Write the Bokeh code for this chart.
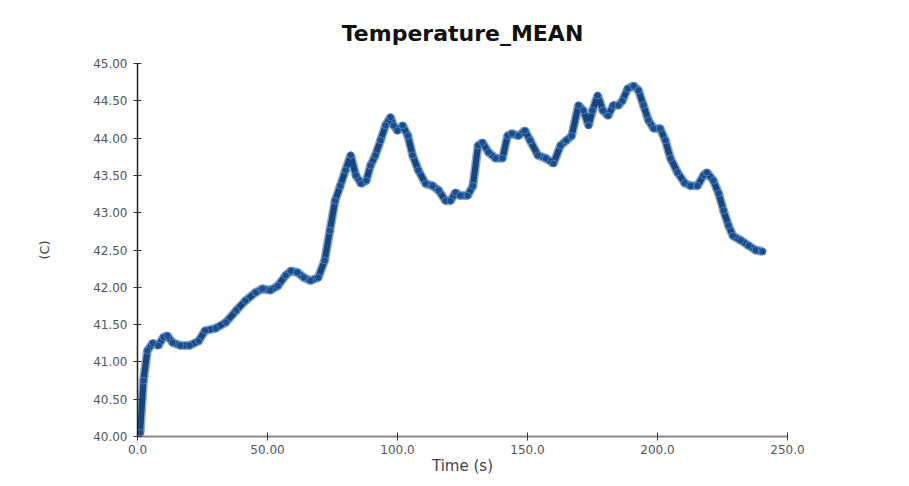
from bokeh.plotting import figure
from bokeh.models import FixedTicker, Range1d
from bokeh.embed import file_html
from bokeh.resources import INLINE

time_s = [0, 1, 2.3, 3.8, 5.8, 8, 10, 11.5, 13.5, 16.5, 20, 23.5, 26, 30, 34, 38, 41.5, 45.4, 48, 51,
          54, 57, 59, 61.5, 64, 66.5, 69.5, 72, 74, 76, 78, 80, 82, 84, 86, 88, 89.6, 91.5, 93.5, 95.4,
          97.3, 98.5, 100, 102, 104, 105.8, 108, 110.8, 113.5, 115.8, 118.5, 120.4, 122.3, 124, 127, 129,
          131, 132.7, 135, 137.7, 140.4, 142.3, 144, 146.5, 149, 151, 154, 157, 160, 162.7, 165, 167,
          169.6, 171.5, 173.5, 175, 177, 179, 181, 183, 185, 186.5, 188.5, 190.8, 192.7, 194.6, 196.5,
          198.5, 201, 203, 205, 207.7, 210.4, 212.7, 215.4, 217.7, 219, 221.5, 223.5, 225.4, 227.3, 229,
          232, 235, 237.7, 240.4]
temp_c = [40.0, 40.05, 40.75, 41.15, 41.25, 41.22, 41.33, 41.35, 41.26, 41.22, 41.22, 41.28, 41.42, 41.45,
          41.53, 41.69, 41.82, 41.93, 41.98, 41.96, 42.02, 42.16, 42.22, 42.2, 42.13, 42.09, 42.13, 42.36,
          42.76, 43.16, 43.36, 43.57, 43.77, 43.5, 43.39, 43.43, 43.63, 43.77, 43.97, 44.17, 44.28, 44.17,
          44.1, 44.17, 44.03, 43.77, 43.57, 43.39, 43.36, 43.3, 43.16, 43.16, 43.27, 43.23, 43.23, 43.36,
          43.9, 43.94, 43.81, 43.73, 43.73, 44.03, 44.06, 44.03, 44.1, 43.97, 43.77, 43.73, 43.66, 43.9,
          43.97, 44.03, 44.44, 44.37, 44.17, 44.37, 44.57, 44.37, 44.3, 44.44, 44.44, 44.5, 44.66, 44.7,
          44.64, 44.44, 44.24, 44.13, 44.13, 43.97, 43.73, 43.54, 43.4, 43.36, 43.36, 43.5, 43.54, 43.43,
          43.26, 43.03, 42.83, 42.69, 42.63, 42.56, 42.5, 42.48]

y_ticks = [40.0, 40.5, 41.0, 41.5, 42.0, 42.5, 43.0, 43.5, 44.0, 44.5, 45.0]
x_ticks = [0, 50, 100, 150, 200, 250]
x_tick_labels = ["0.0", "50.00", "100.0", "150.0", "200.0", "250.0"]

p = figure(width=909, height=486, output_backend="svg", toolbar_location=None,
           x_range=Range1d(0, 250), y_range=Range1d(40, 45),
           min_border_left=137, min_border_right=122, min_border_top=63, min_border_bottom=50,
           title="Temperature_MEAN")
p.title.align = "center"
p.title.text_font = "DejaVu Sans"
p.title.text_font_size = "22px"
p.title.text_font_style = "bold"
p.title.text_color = "#111111"
p.title.offset = 0
p.title.standoff = 35
p.outline_line_color = None
p.xgrid.visible = False
p.ygrid.visible = False
p.background_fill_color = "white"
p.border_fill_color = "white"

p.line(time_s, temp_c, line_width=9, color="#3b6fae", line_alpha=0.6)
p.line(time_s, temp_c, line_width=6, color="#16457f")
p.scatter(time_s, temp_c, size=7, fill_color="#1b4d8a", line_color="#4a7fbf", line_width=1)

xa = p.xaxis[0]
xa.ticker = FixedTicker(ticks=x_ticks)
xa.major_label_overrides = {t: l for t, l in zip(x_ticks, x_tick_labels)}
xa.axis_label = "Time (s)"
xa.axis_line_color = "#888888"
xa.axis_line_width = 2
xa.major_tick_line_color = "#333333"
xa.major_tick_in = 4
xa.major_tick_out = 4
xa.minor_tick_line_color = None
xa.major_label_text_font = "DejaVu Sans"
xa.major_label_text_font_size = "12px"
xa.major_label_text_color = "#555555"
xa.axis_label_text_font = "DejaVu Sans"
xa.axis_label_text_font_size = "15px"
xa.axis_label_text_font_style = "normal"
xa.axis_label_text_color = "#444444"
xa.axis_label_standoff = 0
xa.major_label_standoff = 4

ya = p.yaxis[0]
ya.ticker = FixedTicker(ticks=y_ticks)
ya.major_label_overrides = {t: "%.2f" % t for t in y_ticks}
ya.axis_label = "(C)"
ya.axis_line_color = "#222222"
ya.axis_line_width = 1.5
ya.major_tick_line_color = "#333333"
ya.major_tick_in = 4
ya.major_tick_out = 4
ya.minor_tick_line_color = None
ya.major_label_text_font = "DejaVu Sans"
ya.major_label_text_font_size = "12px"
ya.major_label_text_color = "#555555"
ya.major_label_standoff = 6
ya.axis_label_text_font = "DejaVu Sans"
ya.axis_label_text_font_size = "13px"
ya.axis_label_text_font_style = "normal"
ya.axis_label_text_color = "#444444"
ya.axis_label_standoff = 38

open("out.html", "w").write(file_html(p, INLINE))
